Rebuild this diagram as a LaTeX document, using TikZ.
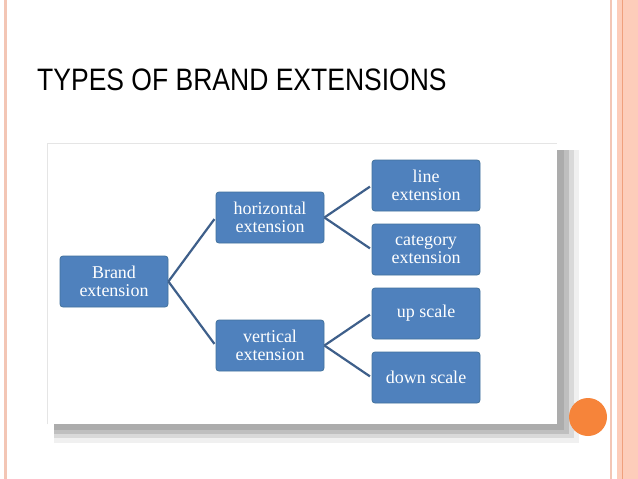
\documentclass[tikz,border=0pt]{standalone}
\usepackage{fontspec}
\setmainfont{Liberation Serif}
\newfontfamily\titlefont{Liberation Sans}
\usetikzlibrary{positioning}
\definecolor{boxblue}{HTML}{4F81BD}
\definecolor{boxedge}{HTML}{41719C}
\definecolor{linkblue}{HTML}{3E5F8A}
\definecolor{rimpink}{HTML}{F3C6B5}
\definecolor{rimfill}{HTML}{FDCDBA}
\definecolor{rimline}{HTML}{F0A07C}
\definecolor{dotorange}{HTML}{F6843A}
\tikzset{
  kind/.style={rectangle, rounded corners=3pt, draw=boxedge, line width=0.8pt,
               fill=boxblue, minimum width=108pt, minimum height=51pt,
               inner sep=0pt, align=center, text=white,
               font=\fontsize{18}{18.5}\selectfont},
  link/.style={draw=linkblue, line width=2.2pt, shorten >=2pt},
  heading/.style={anchor=base west, inner sep=0pt, font=\titlefont\fontsize{31}{31}\selectfont},
}
\begin{document}
\begin{tikzpicture}[x=1pt,y=-1pt]
  \useasboundingbox (0,0) rectangle (638,479);
  % slide frame
  \fill[white] (0,0) rectangle (638,479);
  \draw[rimpink, line width=3pt] (5.5,0) -- (5.5,479);
  \draw[rimpink, line width=2pt] (611,0) -- (611,479);
  \fill[rimfill] (617,0) rectangle (638,479);
  \draw[rimline, line width=1pt] (622.5,0) -- (622.5,479);
  \node[heading] (title) at (37,90) {\scalebox{0.855}[1]{TYPES OF BRAND EXTENSIONS}};
  % picture with its shadow
  \fill[gray!12] (54,150) rectangle (579,443);
  \fill[gray!30] (54,150) rectangle (574,438);
  \fill[gray!50] (54,150) rectangle (569,434);
  \fill[gray!65] (54,150) rectangle (564,430);
  \fill[white] (47,143) rectangle (557,424);
  \draw[gray!20, line width=0.6pt] (47,424) -- (47,143) -- (557,143);
  % tree
  \node[kind] (brand) at (114,281.5) {Brand\\extension};
  \node[kind] (horiz) at (270,217.5) {horizontal\\extension};
  \node[kind] (vert) at (270,345.5) {vertical\\extension};
  \node[kind] (line) at (426,185.5) {line\\extension};
  \node[kind] (cat) at (426,249.5) {category\\extension};
  \node[kind] (up) at (426,313.5) {up scale};
  \node[kind] (down) at (426,377.5) {down scale};
  \draw[link] (brand.east) -- (horiz.west);
  \draw[link] (brand.east) -- (vert.west);
  \draw[link] (horiz.east) -- (line.west);
  \draw[link] (horiz.east) -- (cat.west);
  \draw[link] (vert.east) -- (up.west);
  \draw[link] (vert.east) -- (down.west);
  % corner dot
  \fill[dotorange] (588,417) circle (19);
\end{tikzpicture}
\end{document}
